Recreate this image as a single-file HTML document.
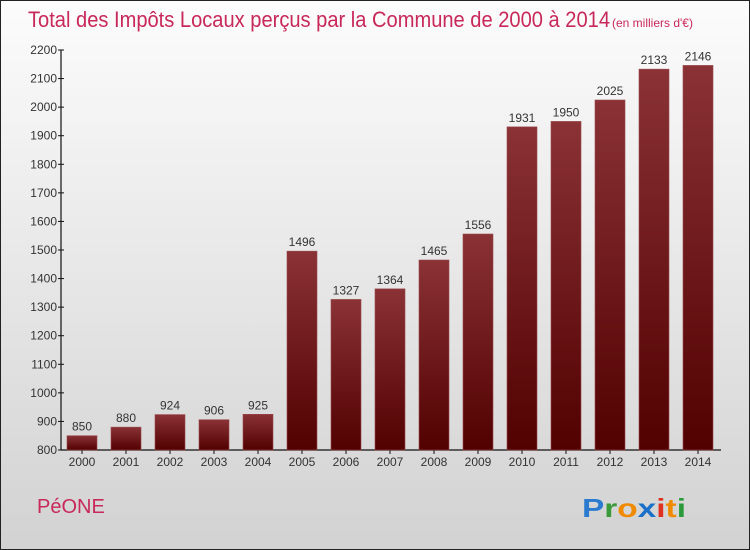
<!DOCTYPE html>
<html><head><meta charset="utf-8"><style>
html,body{margin:0;padding:0}
body{width:750px;height:550px;overflow:hidden;font-family:"Liberation Sans",sans-serif}
#wrap{position:absolute;left:0;top:0;width:748px;height:548px;border:1px solid #222;background:linear-gradient(#fcfcfc,#d2d2d2)}
</style></head><body>
<div id="wrap">
<svg id="chart" width="750" height="550" style="position:absolute;left:-1px;top:-1px">
<defs><linearGradient id="bg" x1="0" y1="0" x2="0" y2="1"><stop offset="0" stop-color="#8a3236"/><stop offset="1" stop-color="#520000"/></linearGradient></defs>
<text x="28" y="27" font-size="22" fill="#c8285a" textLength="582" lengthAdjust="spacingAndGlyphs">Total des Impôts Locaux perçus par la Commune de 2000 à 2014</text>
<text x="612" y="27" font-size="12" fill="#c8285a">(en milliers d'€)</text>
<text x="37" y="513" font-size="20" fill="#c8285a">PéONE</text>
<text x="582" y="517" font-size="26" font-weight="bold" textLength="104" lengthAdjust="spacingAndGlyphs"><tspan fill="#2a7bd0">P</tspan><tspan fill="#3a9a3a">r</tspan><tspan fill="#f08a00">o</tspan><tspan fill="#1a70c8">x</tspan><tspan fill="#e03020">i</tspan><tspan fill="#f08a00">t</tspan><tspan fill="#2a9a3a">i</tspan></text>
<g id="axes"></g><g id="bars"></g>
</svg></div>
<script>
const years=["2000","2001","2002","2003","2004","2005","2006","2007","2008","2009","2010","2011","2012","2013","2014"];
const values=[850,880,924,906,925,1496,1327,1364,1465,1556,1931,1950,2025,2133,2146];
const yTicks=[800,900,1000,1100,1200,1300,1400,1500,1600,1700,1800,1900,2000,2100,2200];
const NS="http://www.w3.org/2000/svg";
const x0=60,slot=44,yMin=800,yMax=2200,yTop=50,yBot=450;
const y=v=>yBot-(v-yMin)/(yMax-yMin)*(yBot-yTop);
const xc=i=>x0+slot*i+slot/2+0;
function mk(t,a,p){const e=document.createElementNS(NS,t);for(const k in a)e.setAttribute(k,a[k]);p.appendChild(e);return e;}
const ax=document.getElementById('axes'),bs=document.getElementById('bars');
let l=mk('line',{x1:61,y1:yTop,x2:61,y2:yBot,stroke:'#111','stroke-width':1.2},ax);


l=mk('line',{x1:61,y1:yBot,x2:721,y2:yBot,stroke:'#111','stroke-width':1.2},ax);


yTicks.forEach(v=>{
 mk('line',{x1:58,y1:y(v),x2:64,y2:y(v),stroke:'#111'},ax);
 const t=mk('text',{x:57,y:y(v)+4,'font-size':12,'text-anchor':'end',fill:'#333'},ax);t.textContent=v;
 
 
});
years.forEach((yr,i)=>{
 const c=xc(i);
 mk('line',{x1:c,y1:yBot,x2:c,y2:yBot+4,stroke:'#111'},ax);
 const t=mk('text',{x:c,y:yBot+16,'font-size':12,'text-anchor':'middle',fill:'#333'},ax);t.textContent=yr;
 
 
 const r=mk('rect',{x:c-15,y:y(values[i]),width:30,height:yBot-y(values[i]),fill:'url(#bg)',stroke:'#9a4a4e','stroke-width':0.6},bs);
 
 
 const v=mk('text',{x:c,y:y(values[i])-5,'font-size':12,'text-anchor':'middle',fill:'#333'},bs);v.textContent=values[i];
 
 
});
</script>
</body></html>
